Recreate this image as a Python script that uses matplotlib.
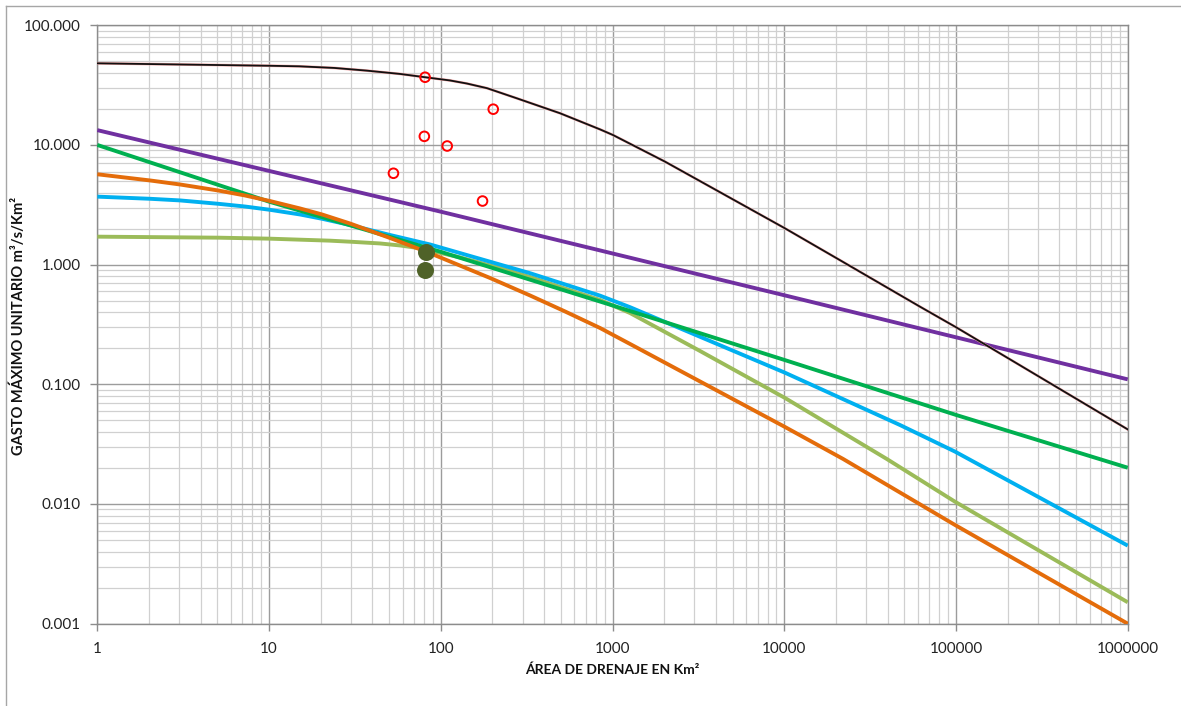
import matplotlib
matplotlib.use("Agg")
import matplotlib.pyplot as plt
from matplotlib.ticker import LogLocator, FuncFormatter, NullFormatter
from matplotlib.lines import Line2D

# ---- data -------------------------------------------------------------
# envelope curves: drainage area (km²) vs. unit peak discharge (m³/s/km²)
black_x = [1, 10, 15, 24, 37, 58, 81, 113, 142, 186, 278, 495, 845, 1007, 2023,
           10100, 21100, 61600, 100000, 1000000]
black_y = [48.1, 45.9, 45.4, 44.0, 41.8, 39.2, 36.8, 34.6, 32.6, 29.8, 24.5, 18.4, 13.5, 12.1, 7.25,
           2.01, 1.09, 0.446, 0.30, 0.042]

purple_x = [1, 100, 10000, 1000000]
purple_y = [13.3, 2.77, 0.555, 0.110]

green_x = [1, 10, 100, 1000, 10000, 100000, 1000000]
green_y = [10.0, 3.36, 1.28, 0.456, 0.16, 0.0555, 0.0201]

orange_x = [1, 2.03, 3.03, 5.05, 7.24, 10.1, 15.15, 20.35, 29.6, 50.6, 83.2, 193.6, 331, 529,
            846, 1265, 10100, 22000, 98700, 1000000]
orange_y = [5.69, 5.05, 4.675, 4.165, 3.784, 3.403, 2.947, 2.625, 2.207, 1.67, 1.276, 0.7735,
            0.5525, 0.4063, 0.2955, 0.2173, 0.044, 0.0238, 0.00668, 0.001]

blue_x = [1, 2.03, 3.03, 5.05, 7.24, 10.1, 15.15, 20.35, 29.6, 50.6, 86.6, 331, 845, 1265,
          10100, 47200, 98700, 1000000]
blue_y = [3.70, 3.55, 3.44, 3.225, 3.06, 2.873, 2.625, 2.417, 2.145, 1.769, 1.474, 0.848, 0.551,
          0.441, 0.125, 0.0457, 0.0274, 0.00449]

lgreen_x = [1, 5.05, 10.1, 22.6, 29.6, 44.3, 57.9, 75.7, 129.5, 221, 331, 528, 845, 1265,
            3230, 10100, 39500, 98700, 1000000]
lgreen_y = [1.713, 1.680, 1.648, 1.586, 1.555, 1.503, 1.446, 1.370, 1.148, 0.938, 0.789, 0.632,
            0.507, 0.394, 0.190, 0.0769, 0.0238, 0.01045, 0.00151]

# observed values
obs_red_x = [81, 80.2, 109, 53, 202, 175]
obs_red_y = [36.8, 11.8, 9.8, 5.8, 19.9, 3.4]

obs_olive_x = [82, 81]
obs_olive_y = [1.28, 0.90]

x_ticks = [1, 10, 100, 1000, 10000, 100000, 1000000]
y_ticks = [0.001, 0.01, 0.1, 1, 10, 100]

x_title = "ÁREA DE DRENAJE EN Km²"
y_title = "GASTO MÁXIMO UNITARIO m³/s/Km²"

# ---- figure -----------------------------------------------------------
plt.rcParams["font.family"] = ["Lato", "DejaVu Sans"]

fig = plt.figure(figsize=(11.81, 7.06), dpi=100)
fig.patch.set_facecolor("white")

# chart-area frame (left and top edges visible)
fig.add_artist(Line2D([0.0047, 0.0047], [0.0, 0.9915], transform=fig.transFigure,
                      color="#A6A6A6", lw=1.0))
fig.add_artist(Line2D([0.0047, 1.0], [0.9915, 0.9915], transform=fig.transFigure,
                      color="#A6A6A6", lw=1.0))

ax = fig.add_axes([0.0824, 0.1166, 0.8725, 0.8476])
ax.set_xscale("log")
ax.set_yscale("log")
ax.set_xlim(1, 1e6)
ax.set_ylim(0.001, 100)

ax.xaxis.set_minor_locator(LogLocator(base=10, subs=range(2, 10), numticks=20))
ax.yaxis.set_minor_locator(LogLocator(base=10, subs=range(2, 10), numticks=20))
ax.set_xticks(x_ticks)
ax.set_yticks(y_ticks)
ax.xaxis.set_major_formatter(FuncFormatter(lambda v, _: f"{int(round(v))}"))
ax.yaxis.set_major_formatter(FuncFormatter(lambda v, _: f"{v:.3f}"))
ax.xaxis.set_minor_formatter(NullFormatter())
ax.yaxis.set_minor_formatter(NullFormatter())

ax.set_axisbelow(True)
ax.grid(which="major", color="#9C9C9C", lw=1.0)
ax.grid(which="minor", color="#D0D0D0", lw=0.9)

for s in ax.spines.values():
    s.set_color("#8C8C8C")
    s.set_linewidth(1.0)

ax.tick_params(which="major", direction="out", length=5, width=1, color="#8C8C8C",
               labelsize=11, labelcolor="#222222")
ax.tick_params(axis="x", which="major", pad=8)
ax.tick_params(axis="y", which="major", pad=7)
ax.tick_params(which="minor", length=0)

# ---- series -----------------------------------------------------------
lw = 2.8
kw = dict(lw=lw, solid_capstyle="butt", solid_joinstyle="round", zorder=3)
ax.plot(lgreen_x, lgreen_y, color="#9BBB59", **kw)
ax.plot(blue_x, blue_y, color="#00B0F0", **kw)
ax.plot(green_x, green_y, color="#00B050", **kw)
ax.plot(orange_x, orange_y, color="#E46C0A", **kw)
ax.plot(purple_x, purple_y, color="#7030A0", **kw)
ax.plot(black_x, black_y, color="#F4A6A6", lw=1.9, zorder=4)
ax.plot(black_x, black_y, color="#111111", lw=1.3, zorder=4)

ax.scatter(obs_olive_x, obs_olive_y, s=150, color="#4F6228", zorder=5, linewidths=0)
ax.scatter(obs_red_x, obs_red_y, s=48, facecolors="none", edgecolors="#FF0000",
           linewidths=1.4, zorder=6)

# ---- titles -----------------------------------------------------------
fig.text(612.5 / 1181, 1 - 670 / 706, x_title, ha="center", va="center",
         fontsize=10, fontweight="bold", color="#111111")
fig.text(18 / 1181, 1 - 326 / 706, y_title, ha="center", va="center", rotation=90,
         fontsize=10.5, fontweight="bold", color="#111111")

fig.savefig("out.png", dpi=100, facecolor="white")
